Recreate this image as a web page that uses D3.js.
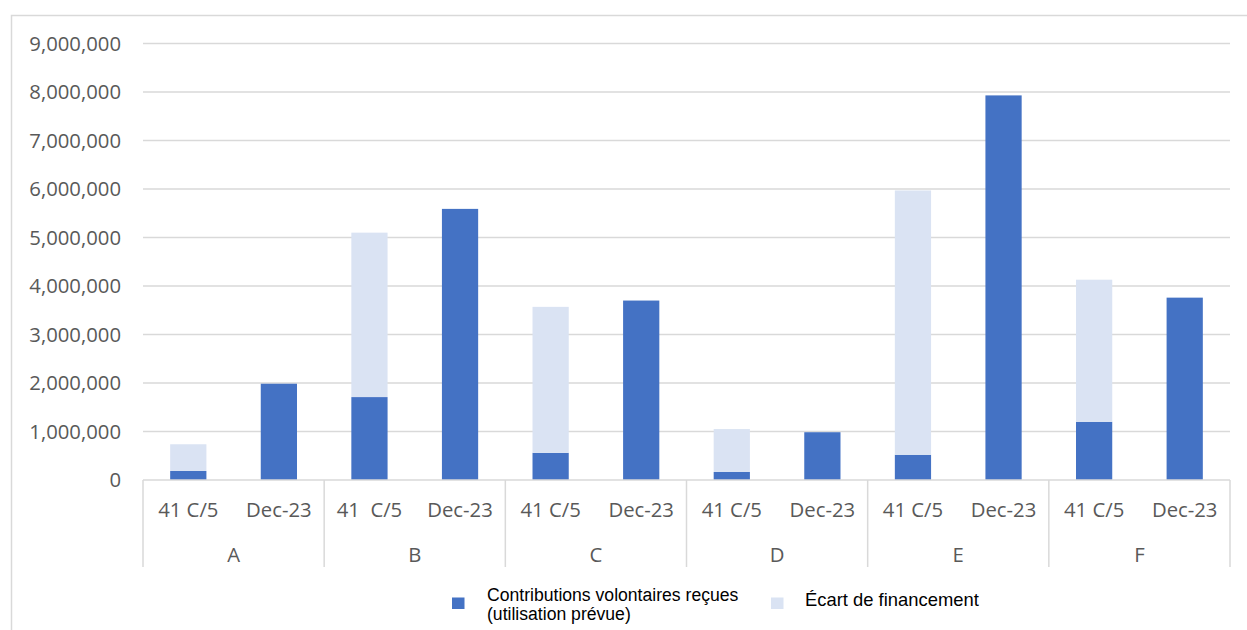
<!DOCTYPE html>
<html>
<head>
<meta charset="utf-8">
<script src="https://cdn.jsdelivr.net/npm/d3@7.8.5/dist/d3.min.js"></script>
<style>
  body { margin: 0; background: #fff; }
  svg { display: block; }
</style>
</head>
<body>
<svg id="chart" width="1247" height="630"></svg>
<script>
// groups and periods
const categories = ['A', 'B', 'C', 'D', 'E', 'F'];
const periods = ['41 C/5', 'Dec-23'];
const periodLabels = [
    ['41 C/5', 'Dec-23'],
    ['41  C/5', 'Dec-23'],
    ['41 C/5', 'Dec-23'],
    ['41 C/5', 'Dec-23'],
    ['41 C/5', 'Dec-23'],
    ['41 C/5', 'Dec-23']
];

// Contributions volontaires reçues (utilisation prévue)
const received41 = [186000, 1710000, 560000, 165000, 520000, 1200000];
const receivedDec = [1985000, 5590000, 3700000, 985000, 7930000, 3760000];
// Écart de financement
const gap41 = [551000, 3390000, 3010000, 885000, 5450000, 2930000];
const gapDec = [0, 0, 0, 0, 0, 0];

const yTicks = [0, 1e6, 2e6, 3e6, 4e6, 5e6, 6e6, 7e6, 8e6, 9e6];
const seriesNames = ['Contributions volontaires reçues\n(utilisation prévue)', 'Écart de financement'];
const colors = ['#4472C4', '#DAE3F3'];

const svg = d3.select('#chart');
const margin = { left: 143, right: 1230, top: 43.5, bottom: 480 };
const textColor = '#595959';
const gridColor = '#d9d9d9';
const font = '"Open Sans", "Noto Sans", sans-serif';
const labelSize = '20.3px';

// outer frame (top + left edges visible)
svg.append('path')
    .attr('d', `M11.5,640 V15.5 H1260`)
    .attr('fill', 'none')
    .attr('stroke', gridColor)
    .attr('stroke-width', 1.5);

const x0 = d3.scaleBand().domain(categories).range([margin.left, margin.right]);
const x1 = d3.scaleBand().domain(periods).range([0, x0.bandwidth()])
    .paddingInner(0.6).paddingOuter(0.3);
const y = d3.scaleLinear().domain([0, 9e6]).range([margin.bottom, margin.top]);

// gridlines
svg.append('g')
    .selectAll('line')
    .data(yTicks.slice(1))
    .join('line')
    .attr('x1', margin.left)
    .attr('x2', margin.right)
    .attr('y1', d => y(d))
    .attr('y2', d => y(d))
    .attr('stroke', gridColor)
    .attr('stroke-width', 1.5);

// y labels
svg.append('g')
    .selectAll('text')
    .data(yTicks)
    .join('text')
    .attr('x', 121)
    .attr('y', d => y(d))
    .attr('dy', '0.35em')
    .attr('text-anchor', 'end')
    .attr('fill', textColor)
    .style('font-family', font)
    .style('font-size', labelSize)
    .text(d => d3.format(',')(d));

// stacked bars
const rows = [];
categories.forEach((c, i) => {
    rows.push({ cat: c, period: periods[0], vals: [received41[i], gap41[i]] });
    rows.push({ cat: c, period: periods[1], vals: [receivedDec[i], gapDec[i]] });
});

const bars = svg.append('g');
rows.forEach(r => {
    let base = 0;
    r.vals.forEach((v, k) => {
        if (v > 0) {
            bars.append('rect')
                .attr('x', x0(r.cat) + x1(r.period))
                .attr('width', x1.bandwidth())
                .attr('y', y(base + v))
                .attr('height', y(base) - y(base + v))
                .attr('fill', colors[k]);
        }
        base += v;
    });
});

// x axis line and category separators
svg.append('line')
    .attr('x1', margin.left).attr('x2', margin.right)
    .attr('y1', y(0)).attr('y2', y(0))
    .attr('stroke', gridColor).attr('stroke-width', 1.5);

const seps = categories.map(c => x0(c)).concat([margin.right]);
svg.append('g')
    .selectAll('line')
    .data(seps)
    .join('line')
    .attr('x1', d => d).attr('x2', d => d)
    .attr('y1', y(0)).attr('y2', 567)
    .attr('stroke', gridColor).attr('stroke-width', 1.5);

// period labels
categories.forEach((c, i) => {
    periods.forEach((p, j) => {
        svg.append('text')
            .attr('x', x0(c) + x1(p) + x1.bandwidth() / 2)
            .attr('y', 517)
            .attr('text-anchor', 'middle')
            .attr('fill', textColor)
            .style('font-family', font)
            .style('font-size', labelSize)
            .style('white-space', 'pre')
            .text(periodLabels[i][j]);
    });
    svg.append('text')
        .attr('x', x0(c) + x0.bandwidth() / 2)
        .attr('y', 562)
        .attr('text-anchor', 'middle')
        .attr('fill', textColor)
        .style('font-family', font)
        .style('font-size', labelSize)
        .text(c);
});

// legend
const legendFont = '"Liberation Sans", Arial, sans-serif';
const legend = [
    { x: 452, tx: 487, ty: 601, size: '17.6px' },
    { x: 771, tx: 805, ty: 606, size: '18.4px' }
];
legend.forEach((l, k) => {
    svg.append('rect')
        .attr('x', l.x).attr('y', 597.5)
        .attr('width', 12.5).attr('height', 11.5)
        .attr('fill', colors[k]);
    const t = svg.append('text')
        .attr('x', l.tx).attr('y', l.ty)
        .attr('fill', '#000')
        .style('font-family', legendFont)
        .style('font-size', l.size);
    seriesNames[k].split('\n').forEach((line, n) => {
        t.append('tspan')
            .attr('x', l.tx)
            .attr('dy', n === 0 ? 0 : 19)
            .text(line);
    });
});
</script>
</body>
</html>
